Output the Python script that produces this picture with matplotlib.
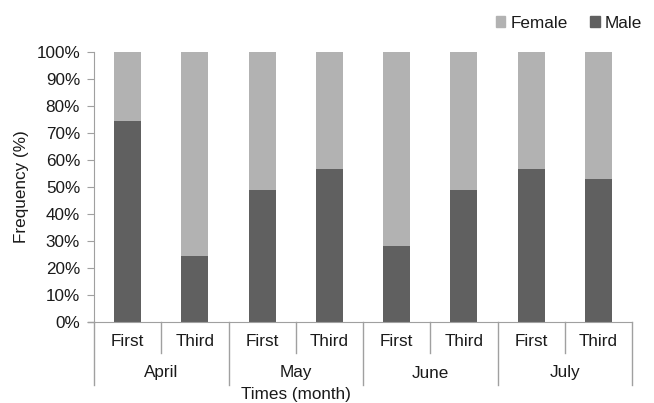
import matplotlib
matplotlib.use("Agg")
import matplotlib.pyplot as plt
from matplotlib.patches import Patch
from matplotlib.ticker import PercentFormatter

months = ["April", "May", "June", "July"]
periods = ["First", "Third"]
male = [74.5, 24.5, 49.0, 56.5, 28.0, 49.0, 56.5, 53.0]
female = [100 - m for m in male]

plt.rcParams['font.family'] = ['Liberation Sans', 'DejaVu Sans']

male_c = "#606060"
female_c = "#b2b2b2"
line_c = "#a0a0a0"
text_c = "#1a1a1a"
fs = 12.3

fig = plt.figure(figsize=(6.54, 4.03), dpi=100)
ax = fig.add_axes([94/654, 1-322/403, (632-94)/654, (322-51.7)/403])

n = len(male)
x = list(range(n))
ax.bar(x, [m/100 for m in male], width=0.4, color=male_c, label="Male", zorder=2)
ax.bar(x, [f/100 for f in female], width=0.4, bottom=[m/100 for m in male],
       color=female_c, label="Female", zorder=2)

ax.set_xlim(-0.5, n - 0.5)
ax.set_ylim(0, 1)
ax.set_yticks([i/10 for i in range(11)])
ax.yaxis.set_major_formatter(PercentFormatter(1.0, decimals=0))
ax.tick_params(axis='y', length=5, color=line_c, labelsize=fs, labelcolor=text_c, pad=5)
ax.set_xticks([])
for s in ["top", "right"]:
    ax.spines[s].set_visible(False)
ax.spines["left"].set_color(line_c)
ax.spines["bottom"].set_color(line_c)
ax.spines["left"].set_bounds(0, 1)

tr = ax.get_xaxis_transform()
H = 270.3
h_sub = -31/H
h_mon = -63/H
ax.plot([-0.5 - 6/67.25, -0.5], [0, 0], color=line_c, lw=1, transform=tr, clip_on=False)
for i in range(n + 1):
    xb = i - 0.5
    depth = h_mon if i % 2 == 0 else h_sub
    ax.plot([xb, xb], [0, depth], color=line_c, lw=1, transform=tr, clip_on=False)

for i in range(n):
    ax.text(i, -19.5/H, periods[i % 2], transform=tr, ha='center', va='center',
            fontsize=fs, color=text_c)
for j, mth in enumerate(months):
    ax.text(2*j + 0.5, -51/H, mth, transform=tr, ha='center', va='center',
            fontsize=fs, color=text_c)
ax.text(2.5, -73/H, "Times (month)", transform=tr, ha='center', va='center',
        fontsize=fs, color=text_c)

ax.set_ylabel("Frequency (%)", fontsize=fs, color=text_c)
ax.yaxis.set_label_coords(-65/538, 0.5)

handles = [Patch(color=female_c, label="Female"), Patch(color=male_c, label="Male")]
fig.legend(handles=handles, loc='center right', bbox_to_anchor=(1.0, 1-23/403),
           ncol=2, frameon=False, fontsize=fs, handlelength=0.55, handleheight=0.55,
           handletextpad=0.3, columnspacing=1.3, labelcolor=text_c, borderaxespad=0.3)

fig.savefig("out.png", dpi=100)
